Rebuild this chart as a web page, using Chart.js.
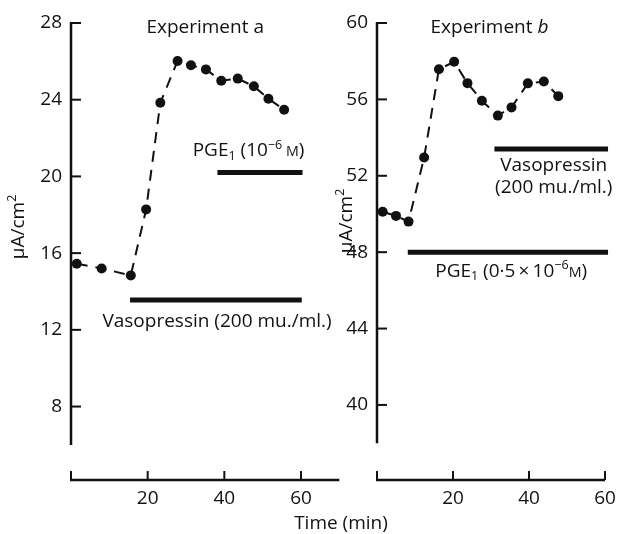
<!DOCTYPE html>
<html>
<head>
<meta charset="utf-8">
<script src="https://cdn.jsdelivr.net/npm/chart.js@4.4.0/dist/chart.umd.min.js"></script>
<style>
  html, body { margin: 0; padding: 0; background: #fff; }
  #wrap { position: relative; width: 617px; height: 534px; overflow: hidden; }
  #wrap canvas { position: absolute; top: 0; }
  #xTitle { position: absolute; left: 241px; width: 200px; top: 511px; text-align: center;
            font: 19px "Open Sans", sans-serif; line-height: 22px; color: #111; }
</style>
</head>
<body>
<div id="wrap">
  <canvas id="chartA" width="345" height="534" style="left:0"></canvas>
  <canvas id="chartB" width="287" height="534" style="left:330px"></canvas>
  <div id="xTitle">Time (min)</div>
</div>
<script>
// Experiment a
const timeA    = [1.5, 8.0, 15.6, 19.6, 23.3, 27.8, 31.3, 35.2, 39.2, 43.5, 47.7, 51.5, 55.6];
const currentA = [15.45, 15.2, 14.84, 18.28, 23.84, 26.02, 25.8, 25.58, 24.99, 25.1, 24.7, 24.05, 23.48];
const vasoA = [15.4, 60.2], vasoLevelA = 13.55;
const pgeA  = [38.2, 60.4], pgeLevelA  = 20.2;

// Experiment b
const timeB    = [1.5, 5.0, 8.3, 12.4, 16.3, 20.3, 23.8, 27.6, 31.8, 35.4, 39.7, 43.9, 47.7];
const currentB = [50.12, 49.9, 49.6, 52.96, 57.58, 57.97, 56.85, 55.93, 55.15, 55.58, 56.84, 56.94, 56.17];
const vasoB = [30.9, 60.8], vasoLevelB = 53.4;
const pgeB  = [8.1, 60.8],  pgeLevelB  = 48.0;

// ticks
const ticksX  = [0, 20, 40, 60];
const ticksYA = [8, 12, 16, 20, 24, 28];
const ticksYB = [40, 44, 48, 52, 56, 60];

const INK = "#111";
const FONT = "\"Open Sans\", sans-serif";
const FS = 19;

// teks dengan subscript / superscript / small caps / italic
function drawRich(ctx, parts, x, baseY, size, align) {
  const spec = k => k === "sub" ? { s: 0.66, dy: size * 0.18 }
                  : k === "sup" ? { s: 0.66, dy: -size * 0.38 }
                  : k === "sc"  ? { s: 0.75, dy: 0 }
                  : { s: 1, dy: 0 };
  const fontOf = p => `${p[1] === "i" ? "italic " : ""}${size * spec(p[1]).s}px ${FONT}`;
  let w = 0;
  parts.forEach(p => { ctx.font = fontOf(p); w += ctx.measureText(p[0]).width; });
  let cx = align === "center" ? x - w / 2 : x;
  ctx.textAlign = "left";
  ctx.textBaseline = "alphabetic";
  parts.forEach(p => {
    ctx.font = fontOf(p);
    ctx.fillText(p[0], cx, baseY + spec(p[1]).dy);
    cx += ctx.measureText(p[0]).width;
  });
}

const panelAxes = {
  id: "panelAxes",
  beforeDatasetsDraw(chart, args, opts) {
    const { ctx } = chart;
    const xs = chart.scales.x, ys = chart.scales.y;
    const x0 = xs.getPixelForValue(0);
    const yb = chart.chartArea.bottom;
    ctx.save();
    ctx.strokeStyle = INK;
    ctx.fillStyle = INK;
    ctx.lineCap = "butt";
    // y axis
    ctx.lineWidth = 2.5;
    ctx.beginPath();
    ctx.moveTo(x0, ys.getPixelForValue(opts.yTo) - 1);
    ctx.lineTo(x0, ys.getPixelForValue(opts.yFrom));
    ctx.stroke();
    ctx.lineWidth = 2;
    ctx.font = `${FS}px ${FONT}`;
    ctx.textAlign = "right";
    ctx.textBaseline = "middle";
    opts.yTicks.forEach(v => {
      const py = ys.getPixelForValue(v);
      ctx.beginPath();
      ctx.moveTo(x0, py);
      ctx.lineTo(x0 + 10, py);
      ctx.stroke();
      ctx.fillText(String(v), x0 - 9, py);
    });
    // x axis
    ctx.lineWidth = 2.5;
    ctx.beginPath();
    ctx.moveTo(x0 - 1, yb);
    ctx.lineTo(xs.getPixelForValue(opts.xTo), yb);
    ctx.stroke();
    ctx.lineWidth = 2;
    ctx.textAlign = "center";
    ctx.textBaseline = "middle";
    ticksX.forEach(v => {
      const px = xs.getPixelForValue(v);
      ctx.beginPath();
      ctx.moveTo(px, yb);
      ctx.lineTo(px, yb - 9);
      ctx.stroke();
      if (v !== 0) ctx.fillText(String(v), px, yb + 19);
    });
    ctx.restore();
  },
  afterDraw(chart, args, opts) {
    const { ctx } = chart;
    const xs = chart.scales.x, ys = chart.scales.y;
    ctx.save();
    ctx.fillStyle = INK;
    opts.labels.forEach(l => {
      drawRich(ctx, l.parts, xs.getPixelForValue(l.x), ys.getPixelForValue(l.y), FS, "center");
    });
    // judul sumbu y
    ctx.translate(xs.getPixelForValue(0) - opts.titleOffset, opts.titleY);
    ctx.rotate(-Math.PI / 2);
    drawRich(ctx, [["\u03bcA/cm", "n"], ["2", "sup"]], 0, FS * 0.35, FS, "center");
    ctx.restore();
  }
};

function barSet(range, level) {
  return {
    data: range.map(x => ({ x, y: level })),
    borderColor: INK, borderWidth: 5, pointRadius: 0, borderCapStyle: "butt", clip: false
  };
}

function makePanel(canvasId, cfg) {
  return new Chart(document.getElementById(canvasId), {
    type: "line",
    data: {
      datasets: [
        {
          data: cfg.time.map((t, i) => ({ x: t, y: cfg.current[i] })),
          borderColor: INK, borderWidth: 2, borderDash: [11, 8], tension: 0,
          pointRadius: 5, pointBackgroundColor: INK, pointBorderWidth: 0, clip: false
        },
        barSet(cfg.vaso, cfg.vasoLevel),
        barSet(cfg.pge, cfg.pgeLevel)
      ]
    },
    options: {
      responsive: false,
      animation: false,
      events: [],
      layout: { padding: cfg.padding },
      plugins: {
        legend: { display: false },
        tooltip: { enabled: false },
        panelAxes: cfg.axes
      },
      scales: {
        x: { type: "linear", min: 0, max: 60, display: false },
        y: { min: cfg.yMin, max: cfg.yMax, display: false }
      }
    },
    plugins: [panelAxes]
  });
}

makePanel("chartA", {
  time: timeA, current: currentA,
  vaso: vasoA, vasoLevel: vasoLevelA, pge: pgeA, pgeLevel: pgeLevelA,
  padding: { left: 71, right: 44, top: 23, bottom: 54 },
  yMin: 4.17, yMax: 28,
  axes: {
    yFrom: 6, yTo: 28, yTicks: ticksYA, xTo: 70, titleOffset: 54, titleY: 227,
    labels: [
      { parts: [["Experiment a", "n"]], x: 35.0, y: 27.48 },
      { parts: [["PGE", "n"], ["1", "sub"], [" (10", "n"], ["\u22126", "sup"], [" M", "sc"], [")", "n"]], x: 46.3, y: 21.06 },
      { parts: [["Vasopressin (200 mu./ml.)", "n"]], x: 38.1, y: 12.16 }
    ]
  }
});

makePanel("chartB", {
  time: timeB, current: currentB,
  vaso: vasoB, vasoLevel: vasoLevelB, pge: pgeB, pgeLevel: pgeLevelB,
  padding: { left: 47, right: 12, top: 23, bottom: 54 },
  yMin: 36.07, yMax: 60,
  axes: {
    yFrom: 38, yTo: 60, yTicks: ticksYB, xTo: 60, titleOffset: 32, titleY: 221,
    labels: [
      { parts: [["Experiment ", "n"], ["b", "i"]], x: 29.6, y: 59.48 },
      { parts: [["Vasopressin", "n"]], x: 46.5, y: 52.27 },
      { parts: [["(200 mu./ml.)", "n"]], x: 46.5, y: 51.08 },
      { parts: [["PGE", "n"], ["1", "sub"], [" (0\u00b75\u2009\u00d7\u200910", "n"], ["\u22126", "sup"], ["M", "sc"], [")", "n"]], x: 35.3, y: 46.72 }
    ]
  }
});
</script>
</body>
</html>
